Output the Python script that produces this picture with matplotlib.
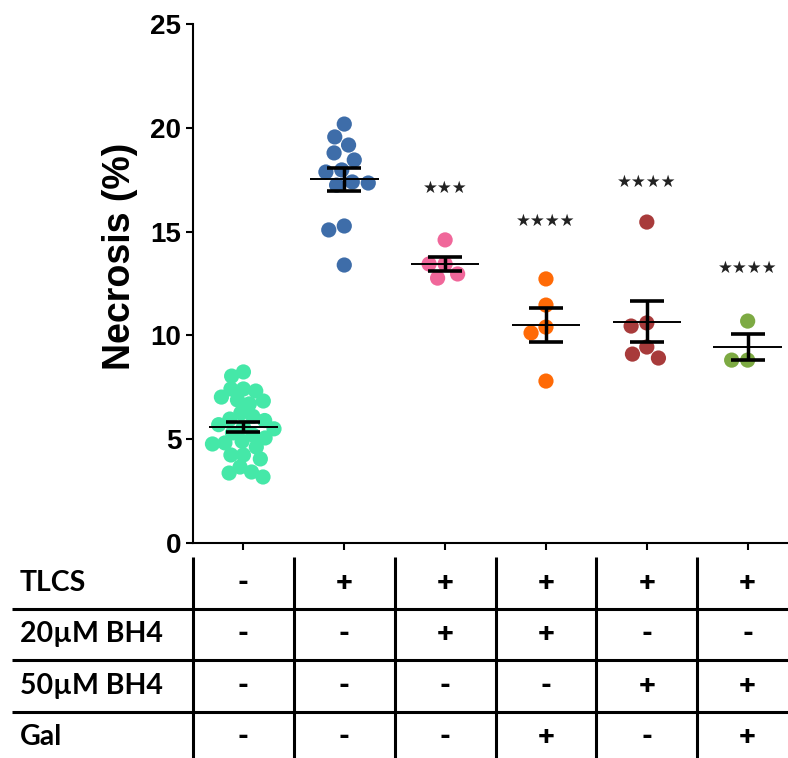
import numpy as np
import matplotlib
matplotlib.use("Agg")
import matplotlib.pyplot as plt

# necrosis (%) per condition
control = [8.24, 8.04, 7.42, 7.42, 7.32, 7.03, 6.89, 6.84, 6.70, 6.26, 6.10, 5.97,
           5.90, 5.70, 5.59, 5.50, 5.30, 5.20, 5.06, 4.90, 4.82, 4.77, 4.62, 4.24,
           4.24, 4.05, 3.66, 3.42, 3.37, 3.18]
tlcs = [20.18, 19.56, 19.17, 18.79, 18.45, 17.97, 17.87, 17.39, 17.34, 17.24,
        15.27, 15.08, 13.39]
tlcs_bh4_20 = [14.60, 13.44, 13.44, 12.96, 12.76]
tlcs_bh4_20_gal = [12.72, 11.46, 10.40, 10.12, 7.80]
tlcs_bh4_50 = [15.46, 10.60, 10.45, 9.44, 9.10, 8.91]
tlcs_bh4_50_gal = [10.69, 8.81, 8.81]

groups = [control, tlcs, tlcs_bh4_20, tlcs_bh4_20_gal, tlcs_bh4_50, tlcs_bh4_50_gal]
colors = ["#45E8A8", "#3E6DA9", "#F0679A", "#FF6A06", "#A83B3B", "#7DAA43"]

stars = ["", "", "★★★", "★★★★", "★★★★", "★★★★"]
star_y = [None, None, 17.1, 15.5, 17.4, 13.25]

# treatment table under the plot
row_labels = ["TLCS", "20µM BH4", "50µM BH4", "Gal"]
row_tlcs = ["-", "+", "+", "+", "+", "+"]
row_bh4_20 = ["-", "-", "+", "+", "-", "-"]
row_bh4_50 = ["-", "-", "-", "-", "+", "+"]
row_gal = ["-", "-", "-", "+", "-", "+"]
table_rows = [row_tlcs, row_bh4_20, row_bh4_50, row_gal]

W, H = 788, 758
X_LEFT, X_RIGHT = -0.5, 5.4
AX_L, AX_R, AX_T, AX_B = 193, 788, 24, 543
PX_X = (AX_R - AX_L) / (X_RIGHT - X_LEFT)
PX_Y = (AX_B - AX_T) / 25.0


def swarm_offsets(values, sep_px):
    """Beeswarm x offsets (data units) so dots sit side by side."""
    ys = np.asarray(values, dtype=float) * PX_Y
    xs = np.zeros(len(ys))
    placed = []
    for i in np.argsort(-ys):
        cands = [0.0]
        for j in placed:
            dy = ys[i] - ys[j]
            if abs(dy) < sep_px:
                dx = np.sqrt(sep_px ** 2 - dy ** 2)
                cands += [xs[j] - dx, xs[j] + dx]
        cands.sort(key=lambda c: (abs(c), c))
        for c in cands:
            ok = all((c - xs[j]) ** 2 + (ys[i] - ys[j]) ** 2 >= sep_px ** 2 - 1e-6
                     for j in placed)
            if ok:
                xs[i] = c
                break
        placed.append(i)
    return xs / PX_X


fig = plt.figure(figsize=(W / 100, H / 100), dpi=100)
ax = fig.add_axes([AX_L / W, 1 - AX_B / H, (AX_R - AX_L) / W, (AX_B - AX_T) / H])

for i, (vals, col) in enumerate(zip(groups, colors)):
    # the big control group is packed tighter, like in the original
    offs = swarm_offsets(vals, 12.5 if len(vals) > 20 else 16)
    ax.scatter(i + offs, vals, s=120, color=col, edgecolors="none", zorder=2, clip_on=False)
    mean = np.mean(vals)
    sem = np.std(vals, ddof=1) / np.sqrt(len(vals))
    ax.hlines(mean, i - 0.34, i + 0.34, color="black", lw=1.4, zorder=3)
    ax.errorbar(i, mean, yerr=sem, color="black", lw=2.5, capsize=12, capthick=2.6, zorder=3)
    if stars[i]:
        ax.text(i, star_y[i], stars[i], ha="center", va="center", fontsize=12,
                family="DejaVu Sans", color="#222222")

ax.set_xlim(X_LEFT, X_RIGHT)
ax.set_ylim(0, 25)
ax.set_yticks(range(0, 26, 5))
ax.set_xticks(range(len(groups)))
ax.set_xticklabels([])
for s in ["top", "right"]:
    ax.spines[s].set_visible(False)
for s in ["left", "bottom"]:
    ax.spines[s].set_linewidth(1.5)
ax.tick_params(axis="both", direction="out", length=5, width=1.5, pad=3.5)
for lab in ax.get_yticklabels():
    lab.set_fontfamily("Liberation Sans")
    lab.set_fontweight("bold")
    lab.set_fontsize(20)

fig.text(120 / W, 1 - 256 / H, "Necrosis (%)", rotation=90, ha="center", va="center",
         fontsize=27, fontweight="bold", family="Liberation Sans")

# table drawn on a full-figure overlay, x shared with the plot, y in pixels
tab = fig.add_axes([0, 0, 1, 1], zorder=-1)
tab.axis("off")
tab.set_xlim(X_LEFT - AX_L / PX_X, X_RIGHT)
tab.set_ylim(H, 0)

tab_top, row_h = 557, 51.5
label_x = X_LEFT - (AX_L - 20) / PX_X
for r, (name, marks) in enumerate(zip(row_labels, table_rows)):
    yc = tab_top + row_h * (r + 0.5)
    tab.text(label_x, yc, name, ha="left", va="center", fontsize=20.5,
             fontweight="bold", family=["Lato", "DejaVu Sans"])
    for c, m in enumerate(marks):
        tab.text(c, yc, m, ha="center", va="center", fontsize=21,
                 fontweight="heavy", family=["Lato", "DejaVu Sans"])
    if r > 0:
        tab.hlines(tab_top + row_h * r, X_LEFT - (AX_L - 12) / PX_X, X_RIGHT,
                   color="black", lw=2.2)
for c in range(len(groups)):
    tab.vlines(c - 0.5, tab_top, H, color="black", lw=2.2)

fig.savefig("out.png", dpi=100)
